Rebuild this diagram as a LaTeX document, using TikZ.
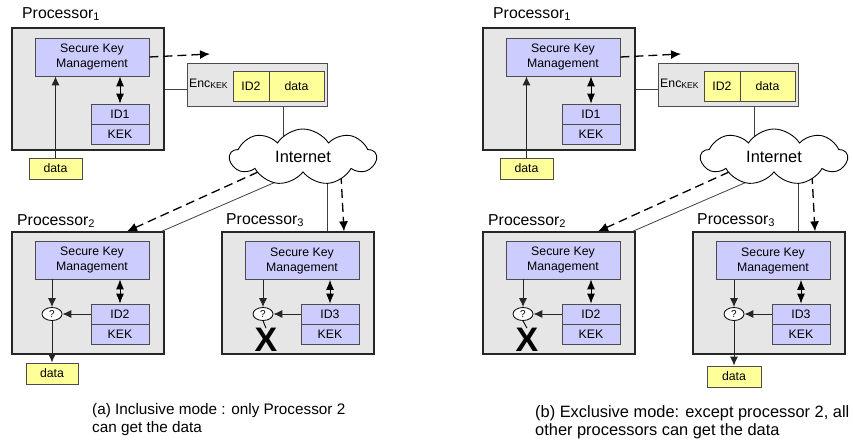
\documentclass[tikz,border=0pt]{standalone}
\usepackage{fontspec}
\setmainfont{Liberation Sans}
\usetikzlibrary{arrows.meta,shapes.geometric,shapes.symbols}
\definecolor{keyblue}{HTML}{CCCCFF}
\definecolor{datayellow}{HTML}{FFFF99}
\definecolor{procgray}{HTML}{E6E6E6}

\begin{document}
\begin{tikzpicture}[x=1pt, y=-1pt]
\tikzstyle{procbox}=[draw=black!85, fill=procgray, line width=1.3pt,
                     minimum width=152pt, minimum height=122pt, inner sep=0pt]
\tikzstyle{encbox}=[draw=black!70, fill=procgray, line width=0.8pt,
                    minimum width=140pt, minimum height=43pt, inner sep=0pt]
\tikzstyle{skmbox}=[draw=black!70, fill=keyblue, line width=0.8pt,
                    minimum width=114pt, minimum height=38pt, inner sep=0pt,
                    align=center, font=\fontsize{12.3}{15}\selectfont]
\tikzstyle{keybox}=[draw=black!70, fill=keyblue, line width=0.8pt,
                    minimum width=58pt, minimum height=20pt, inner sep=0pt,
                    font=\fontsize{12.3}{15}\selectfont]
\tikzstyle{databox}=[draw=black!70, fill=datayellow, line width=0.8pt,
                     minimum height=21pt, inner sep=0pt,
                     font=\fontsize{12.3}{15}\selectfont]
\tikzstyle{testnode}=[ellipse, draw=black, fill=white, line width=0.8pt,
                      minimum width=20pt, minimum height=13pt, inner sep=0pt,
                      font=\fontsize{10}{10}\selectfont]
\tikzstyle{cloudbox}=[cloud, cloud puffs=9, cloud puff arc=115,
                      cloud ignores aspect, draw=black, fill=white,
                      line width=0.9pt, minimum width=146pt,
                      minimum height=56pt, inner sep=0pt,
                      font=\fontsize{16.4}{18}\selectfont]
\tikzstyle{bigtext}=[inner sep=0pt, font=\fontsize{15.8}{18}\selectfont]
\tikzstyle{smalltext}=[inner sep=0pt, font=\fontsize{12.3}{15}\selectfont]
\tikzstyle{blocked}=[inner sep=0pt, font=\fontsize{34}{34}\selectfont\bfseries]
\tikzstyle{arr}=[-{Latex[length=9pt,width=8pt]}, line width=0.9pt, draw=black!85]
\tikzstyle{twoway}=[{Latex[length=10pt,width=8pt]}-{Latex[length=10pt,width=8pt]},
                    line width=0.9pt]
\tikzstyle{dasharr}=[-{Latex[length=10pt,width=9pt]}, line width=1.3pt,
                     dash pattern=on 9pt off 5pt]
\tikzstyle{wire}=[line width=0.8pt, draw=black!75]

\useasboundingbox (0,0) rectangle (853,442);

% ---------------- (a) inclusive mode ----------------
\node[procbox] (p1a) at (88,89) {};
\node[bigtext, anchor=base west] at (22,18) {Processor\textsubscript{1}};
\node[skmbox] (skm1a) at (92,57) {Secure Key\\Management};
\node[keybox] (id1a) at (120,114) {ID1};
\node[keybox] (kek1a) at (120,134) {KEK};
\node[databox, minimum width=53pt] (dina) at (55.5,168.5) {data};
\node[encbox] (enca) at (257,84.5) {};
\node[smalltext, anchor=base west] at (189,87) {Enc\textsubscript{KEK}};
\node[databox, minimum width=36pt, minimum height=30pt] (encida) at (251,86) {ID2};
\node[databox, minimum width=55pt, minimum height=30pt] (encdata) at (296.5,86) {data};
\coordinate (senda) at (210,54);

\node[procbox] (p2a) at (88,293) {};
\node[bigtext, anchor=base west] at (17,225) {Processor\textsubscript{2}};
\node[skmbox] (skm2a) at (92,260) {Secure Key\\Management};
\node[keybox] (id2a) at (120,314) {ID2};
\node[keybox] (kek2a) at (120,334) {KEK};
\node[testnode] (q2a) at (52,314) {?};
\node[databox, minimum width=52pt] (douta) at (52,373.5) {data};

\node[procbox] (p3a) at (298,293) {};
\node[bigtext, anchor=base west] at (226,224) {Processor\textsubscript{3}};
\node[skmbox] (skm3a) at (302,260.5) {Secure Key\\Management};
\node[keybox] (id3a) at (330,314) {ID3};
\node[keybox] (kek3a) at (330,334) {KEK};
\node[testnode] (q3a) at (263,314) {?};
\node[blocked] (x3a) at (266,340) {X};

% points just inside the cloud rim; the cloud is drawn over them
\coordinate (rim0a) at (283,140);
\coordinate (rim1a) at (258,172);
\coordinate (rim2a) at (285,178);
\coordinate (rim3a) at (327,178);
\coordinate (rim4a) at (341,175);

% sender side
\draw[arr] (dina) -- (dina |- skm1a.south);
\draw[twoway] (id1a |- skm1a.south) -- (id1a.north);
\draw[dasharr] (skm1a.east) -- (senda);
\draw[wire] (p1a.east) -- (p1a.east -| enca.west);
\draw[wire] (rim0a |- enca.south) -- (rim0a);
% through the network
\draw[dasharr] (rim1a) -- ([xshift=39pt]p2a.north);
\draw[wire] (rim2a) -- ([xshift=-3pt]p2a.north east);
\draw[wire] (rim3a) -- (rim3a |- p3a.north);
\draw[dasharr] (rim4a) -- ([xshift=46pt]p3a.north);
\node[cloudbox] (neta) at (303,157) {Internet};
% receivers
\draw[arr] (q2a |- skm2a.south) -- (q2a.north);
\draw[twoway] (id2a |- skm2a.south) -- (id2a.north);
\draw[arr] (id2a.west) -- (q2a.east);
\draw[arr] (q2a.south) -- (douta.north);
\draw[arr] (q3a |- skm3a.south) -- (q3a.north);
\draw[twoway] (id3a |- skm3a.south) -- (id3a.north);
\draw[arr] (id3a.west) -- (q3a.east);
\draw[line width=0.9pt] (q3a.south) -- (x3a.north);

\node[anchor=north west, align=left, inner sep=0pt,
      font=\fontsize{15.3}{18}\selectfont] (capa) at (92,403)
     {(a) Inclusive mode : only Processor 2\\can get the data};

% ---------------- (b) exclusive mode ----------------
\node[procbox] (p1b) at (559,89) {};
\node[bigtext, anchor=base west] at (493,18) {Processor\textsubscript{1}};
\node[skmbox] (skm1b) at (563,57) {Secure Key\\Management};
\node[keybox] (id1b) at (591,114) {ID1};
\node[keybox] (kek1b) at (591,134) {KEK};
\node[databox, minimum width=53pt] (dinb) at (526.5,168.5) {data};
\node[encbox] (encb) at (728,84.5) {};
\node[smalltext, anchor=base west] at (660,87) {Enc\textsubscript{KEK}};
\node[databox, minimum width=36pt, minimum height=30pt] (encidb) at (722,86) {ID2};
\node[databox, minimum width=55pt, minimum height=30pt] (encdatb) at (767.5,86) {data};
\coordinate (sendb) at (681,54);

\node[procbox] (p2b) at (559,293) {};
\node[bigtext, anchor=base west] at (488,225) {Processor\textsubscript{2}};
\node[skmbox] (skm2b) at (563,260) {Secure Key\\Management};
\node[keybox] (id2b) at (591,314) {ID2};
\node[keybox] (kek2b) at (591,334) {KEK};
\node[testnode] (q2b) at (523,314) {?};
\node[blocked] (x2b) at (527,340) {X};

\node[procbox] (p3b) at (769,293) {};
\node[bigtext, anchor=base west] at (697,224) {Processor\textsubscript{3}};
\node[skmbox] (skm3b) at (773,260.5) {Secure Key\\Management};
\node[keybox] (id3b) at (801,314) {ID3};
\node[keybox] (kek3b) at (801,334) {KEK};
\node[testnode] (q3b) at (734,314) {?};
\node[databox, minimum width=54pt] (doutb) at (734,376.5) {data};

\coordinate (rim0b) at (754,140);
\coordinate (rim1b) at (729,172);
\coordinate (rim2b) at (756,178);
\coordinate (rim3b) at (798,178);
\coordinate (rim4b) at (812,175);

% sender side
\draw[arr] (dinb) -- (dinb |- skm1b.south);
\draw[twoway] (id1b |- skm1b.south) -- (id1b.north);
\draw[dasharr] (skm1b.east) -- (sendb);
\draw[wire] (p1b.east) -- (p1b.east -| encb.west);
\draw[wire] (rim0b |- encb.south) -- (rim0b);
% through the network
\draw[dasharr] (rim1b) -- ([xshift=39pt]p2b.north);
\draw[wire] (rim2b) -- ([xshift=-3pt]p2b.north east);
\draw[wire] (rim3b) -- (rim3b |- p3b.north);
\draw[dasharr] (rim4b) -- ([xshift=46pt]p3b.north);
\node[cloudbox] (netb) at (774,157) {Internet};
% receivers
\draw[arr] (q2b |- skm2b.south) -- (q2b.north);
\draw[twoway] (id2b |- skm2b.south) -- (id2b.north);
\draw[arr] (id2b.west) -- (q2b.east);
\draw[line width=0.9pt] (q2b.south) -- (x2b.north);
\draw[arr] (q3b |- skm3b.south) -- (q3b.north);
\draw[twoway] (id3b |- skm3b.south) -- (id3b.north);
\draw[arr] (id3b.west) -- (q3b.east);
\draw[arr] (q3b.south) -- (doutb.north);

\node[anchor=north west, align=left, inner sep=0pt,
      font=\fontsize{16.4}{18}\selectfont] (capb) at (535,405)
     {(b) Exclusive mode: except processor 2, all\\other processors can get the data};
\end{tikzpicture}
\end{document}
